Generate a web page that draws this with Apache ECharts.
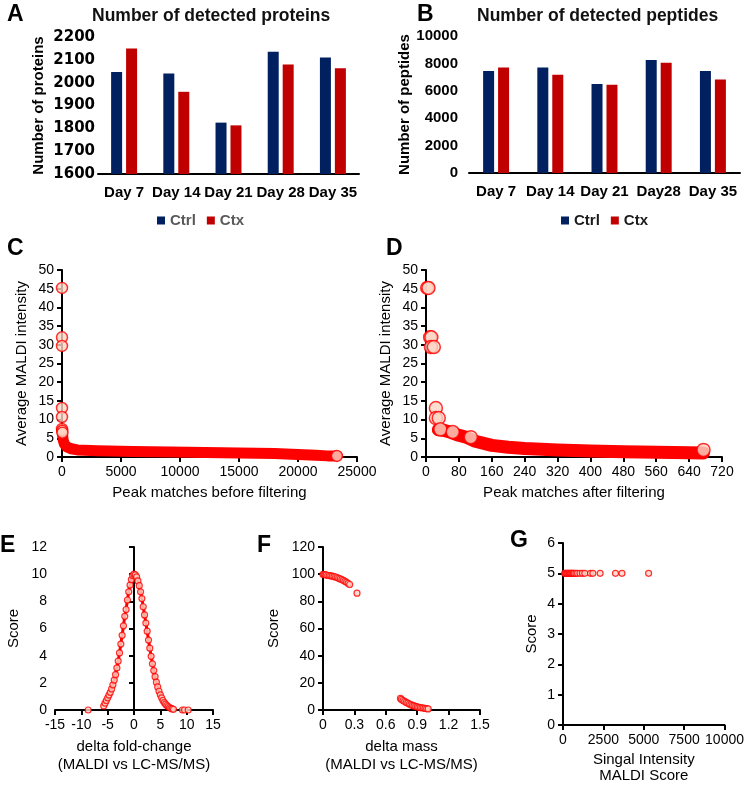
<!DOCTYPE html>
<html>
<head>
<meta charset="utf-8">
<script src="https://cdn.jsdelivr.net/npm/echarts@6/dist/echarts.min.js"></script>
<style>
  html, body { margin: 0; background: #fff; }
  #chart { width: 747px; height: 785px; }
</style>
</head>
<body>
<div id="chart"></div>
<script>
// A / B - detected proteins and peptides
const daysA = ['Day 7', 'Day 14', 'Day 21', 'Day 28', 'Day 35'];
const daysB = ['Day 7', 'Day 14', 'Day 21', 'Day28', 'Day 35'];
const proteinsCtrl = [2047, 2040, 1825, 2135, 2110];
const proteinsCtx = [2150, 1960, 1813, 2080, 2063];
const peptidesCtrl = [7450, 7700, 6500, 8250, 7450];
const peptidesCtx = [7700, 7180, 6450, 8050, 6820];

// C - peak matches before filtering (outliers + dense band)
const cPoints = [[0, 45.2], [0, 32], [0, 29.7], [0, 13.1], [0, 10.7], [0, 7.5], [20, 7], [40, 6.5], [23300, 0.3]];
const cBand = [[0, 7.3], [30, 6.5], [60, 5.5], [100, 4.5], [200, 3.5], [400, 2.7], [800, 2.2], [1300, 1.9],
  [3000, 1.7], [6000, 1.5], [10700, 1.3], [15000, 1.1], [18000, 0.95], [20000, 0.7], [21500, 0.45],
  [22500, 0.3], [23300, 0.3]];

// D - peak matches after filtering
const dPoints = [[3, 45.2], [6, 45.2], [10, 32], [13, 32], [12, 29.4], [19, 29.4], [24, 13.1],
  [24, 10.4], [31, 10.4], [35, 7.4], [65, 6.7], [109, 5.3], [675, 1.9]];
const dBand = [[30, 7.3], [45, 7.1], [60, 6.6], [80, 5.8], [100, 5.2], [120, 4.2], [160, 3.1],
  [200, 2.6], [240, 2.3], [320, 1.9], [400, 1.6], [480, 1.4], [560, 1.25], [640, 1.15], [675, 1.1]];

// E - score vs delta fold-change
const eCurve = [[-5.75, 0.3], [-5.5, 0.5], [-5.25, 0.7], [-5, 0.9], [-4.75, 1.1], [-4.5, 1.3], [-4.25, 1.55],
  [-4, 1.85], [-3.75, 2.2], [-3.5, 2.6], [-3.25, 3.1], [-3, 3.6], [-2.75, 4.2], [-2.5, 4.85], [-2.25, 5.5],
  [-2, 6.2], [-1.75, 6.9], [-1.5, 7.4], [-1.25, 8.1], [-1, 8.7], [-0.75, 9.2], [-0.5, 9.6], [-0.25, 9.9],
  [0, 10], [0.25, 9.95], [0.5, 9.8], [0.75, 9.5], [1, 9.15], [1.25, 8.7], [1.5, 8.2], [1.75, 7.6],
  [2, 7.0], [2.25, 6.4], [2.5, 5.8], [2.75, 5.15], [3, 4.55], [3.25, 3.95], [3.5, 3.4], [3.75, 2.9],
  [4, 2.45], [4.25, 2.05], [4.5, 1.7], [4.75, 1.38], [5, 1.12], [5.25, 0.9], [5.5, 0.7], [5.75, 0.55],
  [6, 0.43], [6.25, 0.33], [6.5, 0.25], [6.75, 0.18], [7, 0.12], [7.25, 0.08], [7.5, 0.05]];
const eOutliers = [[-8.7, 0], [9.2, 0], [9.6, 0], [10.3, 0]];

// F - score vs delta mass
const fPoints = [[0, 99.8], [0.01, 99.7], [0.02, 99.6], [0.03, 99.4], [0.045, 99.2], [0.06, 99], [0.075, 98.8],
  [0.09, 98.5], [0.105, 98.2], [0.12, 97.9], [0.135, 97.5], [0.15, 97], [0.165, 96.5], [0.18, 96],
  [0.195, 95.4], [0.21, 94.7], [0.225, 94], [0.24, 93.2], [0.255, 92.4], [0.325, 86],
  [0.74, 8.5], [0.75, 7.8], [0.765, 7], [0.78, 6.3], [0.795, 5.6], [0.81, 5], [0.825, 4.4], [0.84, 3.9],
  [0.855, 3.4], [0.87, 3], [0.885, 2.6], [0.9, 2.3], [0.915, 2], [0.93, 1.8], [0.945, 1.6], [0.96, 1.4],
  [0.975, 1.2], [0.99, 1.0], [1.005, 0.8]];

// G - score vs signal intensity
const gIntensity = [100, 150, 200, 250, 300, 350, 400, 450, 500, 550, 600, 650, 700, 800, 900, 1050,
  1200, 1350, 1700, 1850, 2300, 3250, 3650, 5300];
const gScore = gIntensity.map(() => 5);

const FONT = 'Liberation Sans, Arial, sans-serif';
const RED = '#ff0000';
const PEACH = '#fbd6c6';
const axisLine = { lineStyle: { color: '#000', width: 2 } };
const axisTick = { length: 5, lineStyle: { color: '#000', width: 2 } };
const plain = v => String(v); // no thousands separator

// plain value axis used by panels C-G
function valAxis(grid, min, max, interval, name, gap, more) {
  return Object.assign({
    type: 'value', gridIndex: grid, min: min, max: max, interval: interval,
    name: name, nameLocation: 'middle', nameGap: gap,
    nameTextStyle: { fontSize: 15, color: '#000', lineHeight: 17 },
    axisLine: axisLine, axisTick: axisTick, splitLine: { show: false },
    axisLabel: { fontSize: 14, color: '#000', margin: 8, formatter: plain },
  }, more || {});
}

function dots(x, y, data, size, bw) {
  return {
    type: 'scatter', xAxisIndex: x, yAxisIndex: y, data: data, symbolSize: size,
    itemStyle: { color: PEACH, borderColor: RED, borderWidth: bw }, z: 3,
  };
}

function band(x, y, data, w) {
  return {
    type: 'line', xAxisIndex: x, yAxisIndex: y, data: data, showSymbol: false,
    lineStyle: { color: RED, width: w, cap: 'round', join: 'round' }, z: 2,
  };
}

const chart = echarts.init(document.getElementById('chart'));
chart.setOption({
  animation: false,
  textStyle: { fontFamily: FONT },
  title: [
    { text: 'A', left: 7, top: 3 },
    { text: 'B', left: 417, top: 3 },
    { text: 'C', left: 7, top: 237 },
    { text: 'D', left: 386, top: 237 },
    { text: 'E', left: 0, top: 534 },
    { text: 'F', left: 257, top: 534 },
    { text: 'G', left: 510, top: 529 },
  ].map(t => Object.assign(t, { padding: 0, textStyle: { fontSize: 23, fontWeight: 'bold', color: '#000' } }))
    .concat([
      { text: 'Number of detected proteins', left: 92, top: 7 },
      { text: 'Number of detected peptides', left: 477, top: 7 },
    ].map(t => Object.assign(t, { padding: 0, textStyle: { fontSize: 17.5, fontWeight: 'bold', color: '#111' } }))),
  legend: [
    { data: ['Ctrl', 'Ctx'], left: 157, top: 213, padding: 0, itemGap: 11, itemWidth: 8, itemHeight: 8,
      icon: 'rect', textStyle: { fontSize: 15, fontWeight: 'bold', color: '#595959' } },
    { data: ['Ctrl', 'Ctx'], left: 561, top: 213, padding: 0, itemGap: 11, itemWidth: 8, itemHeight: 8,
      icon: 'rect', textStyle: { fontSize: 15, fontWeight: 'bold', color: '#1a1a1a' } },
  ],
  grid: [
    { left: 98, top: 37, width: 261, height: 137 },
    { left: 469, top: 36, width: 271, height: 137 },
    { left: 62, top: 270, width: 295, height: 187 },
    { left: 426, top: 270, width: 296, height: 187 },
    { left: 55, top: 547, width: 158, height: 163 },
    { left: 323, top: 547, width: 157, height: 163 },
    { left: 563, top: 543, width: 163, height: 185 },
  ],
  xAxis: [
    { type: 'category', gridIndex: 0, data: daysA, axisLine: axisLine, axisTick: axisTick,
      axisLabel: { fontSize: 15, fontWeight: 'bold', color: '#000', margin: 11, interval: 0 } },
    { type: 'category', gridIndex: 1, data: daysB, axisLine: axisLine, axisTick: axisTick,
      axisLabel: { fontSize: 15, fontWeight: 'bold', color: '#000', margin: 11, interval: 0 } },
    valAxis(2, 0, 25000, 5000, 'Peak matches before filtering', 27),
    valAxis(3, 0, 720, 80, 'Peak matches after filtering', 27),
    valAxis(4, -15, 15, 5, 'delta fold-change\n(MALDI vs LC-MS/MS)', 28, { nameTextStyle: { fontSize: 15, color: '#000', lineHeight: 18 } }),
    valAxis(5, 0, 1.5, 0.3, 'delta mass\n(MALDI vs LC-MS/MS)', 28, {
      nameTextStyle: { fontSize: 15, color: '#000', lineHeight: 18 },
      axisLabel: { fontSize: 14, color: '#000', margin: 8, formatter: v => (v === 0 ? '0' : v.toFixed(1)) } }),
    valAxis(6, 0, 10000, 2500, 'Singal Intensity\nMALDI Score', 27, { nameTextStyle: { fontSize: 15, color: '#000', lineHeight: 16 } }),
  ],
  yAxis: [
    { type: 'value', gridIndex: 0, min: 1600, max: 2200, interval: 100, splitLine: { show: false },
      axisLine: axisLine, axisTick: { length: 4, lineStyle: { color: '#000', width: 2 } },
      axisLabel: { fontSize: 15, fontWeight: 'bold', fontFamily: 'DejaVu Sans', color: '#000', margin: 3, formatter: plain },
      name: 'Number of proteins', nameLocation: 'middle', nameGap: 52,
      nameTextStyle: { fontSize: 15, fontWeight: 'bold', color: '#000' } },
    { type: 'value', gridIndex: 1, min: 0, max: 10000, interval: 2000, splitLine: { show: false },
      axisLine: axisLine, axisTick: { length: 4, lineStyle: { color: '#000', width: 2 } },
      axisLabel: { fontSize: 15, fontWeight: 'bold', color: '#000', margin: 11, formatter: plain },
      name: 'Number of peptides', nameLocation: 'middle', nameGap: 54,
      nameTextStyle: { fontSize: 15, fontWeight: 'bold', color: '#000' } },
    valAxis(2, 0, 50, 5, 'Average MALDI intensity', 32),
    valAxis(3, 0, 50, 5, 'Average MALDI intensity', 32),
    valAxis(4, 0, 12, 2, 'Score', 33),
    valAxis(5, 0, 120, 20, 'Score', 41),
    valAxis(6, 0, 6, 1, 'Score', 23),
  ],
  series: [
    { name: 'Ctrl', type: 'bar', xAxisIndex: 0, yAxisIndex: 0, data: proteinsCtrl, barWidth: 11, barGap: '36%', itemStyle: { color: '#002060' } },
    { name: 'Ctx', type: 'bar', xAxisIndex: 0, yAxisIndex: 0, data: proteinsCtx, barWidth: 11, itemStyle: { color: '#c00000' } },
    { name: 'Ctrl', type: 'bar', xAxisIndex: 1, yAxisIndex: 1, data: peptidesCtrl, barWidth: 11, barGap: '36%', itemStyle: { color: '#002060' } },
    { name: 'Ctx', type: 'bar', xAxisIndex: 1, yAxisIndex: 1, data: peptidesCtx, barWidth: 11, itemStyle: { color: '#c00000' } },
    band(2, 2, cBand, 11),
    dots(2, 2, cPoints, 11, 1.5),
    band(3, 3, dBand, 13),
    dots(3, 3, dPoints, 13, 1.5),
    { type: 'line', xAxisIndex: 4, yAxisIndex: 4, data: eCurve, showSymbol: false, lineStyle: { color: RED, width: 3 }, z: 2 },
    dots(4, 4, eCurve.concat(eOutliers), 6, 1.2),
    dots(5, 5, fPoints, 6, 1.2),
    dots(6, 6, gIntensity.map((v, i) => [v, gScore[i]]), 6, 1.2),
  ],
});
</script>
</body>
</html>
